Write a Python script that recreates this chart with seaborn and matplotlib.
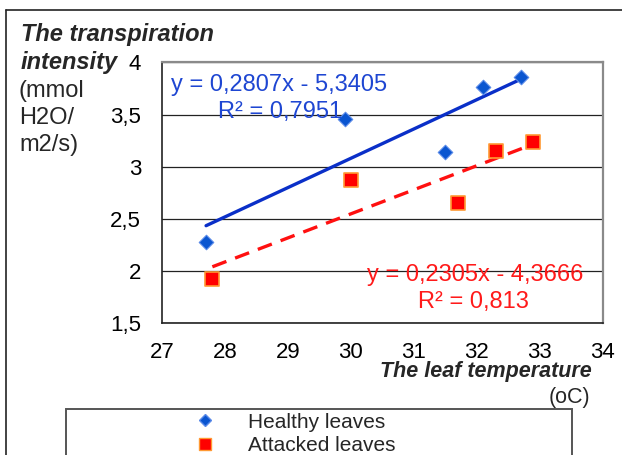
import matplotlib
matplotlib.use("Agg")
import matplotlib.pyplot as plt
import seaborn as sns
import pandas as pd
from matplotlib.patches import Rectangle
from matplotlib.lines import Line2D

# ---- data ----
healthy_temp = [27.7, 29.9, 31.5, 32.1, 32.7]
healthy_trans = [2.28, 3.46, 3.14, 3.76, 3.86]
attacked_temp = [27.8, 30.0, 31.7, 32.3, 32.9]
attacked_trans = [1.92, 2.87, 2.65, 3.15, 3.24]
healthy_fit = (0.2807, -5.3405)
attacked_fit = (0.2305, -4.3666)
healthy_eq = ["y = 0,2807x - 5,3405", "R² = 0,7951"]
attacked_eq = ["y = 0,2305x - 4,3666", "R² = 0,813"]
series_names = ["Healthy leaves", "Attacked leaves"]
x_ticks = [27, 28, 29, 30, 31, 32, 33, 34]
y_ticks = [1.5, 2, 2.5, 3, 3.5, 4]
y_tick_labels = ["1,5", "2", "2,5", "3", "3,5", "4"]

df = pd.DataFrame({
    "temp": healthy_temp + attacked_temp,
    "trans": healthy_trans + attacked_trans,
    "group": [series_names[0]] * len(healthy_temp) + [series_names[1]] * len(attacked_temp),
})

sns.set_style("white")
plt.rcParams["font.family"] = ["Liberation Sans", "DejaVu Sans"]

W, H = 622, 455
fig = plt.figure(figsize=(6.22, 4.55), dpi=100)
ax = fig.add_axes([162 / W, 1 - 323.3 / H, (602.7 - 162) / W, (323.3 - 62.3) / H])

def fx(px):
    return px / W

def fy(py):
    return 1 - py / H

blue_fill = "#0A55D0"
blue_line = "#0A2FC8"
red_fill = "#FF0000"
red_edge = "#FF9933"

# gridlines
ax.set_axisbelow(True)
ax.yaxis.grid(True, color="#222222", lw=0.9)
ax.xaxis.grid(False)

# trend lines
xs = [min(healthy_temp), max(healthy_temp)]
ax.plot(xs, [healthy_fit[0] * v + healthy_fit[1] for v in xs], color=blue_line, lw=2.4, zorder=2)
xs = [min(attacked_temp), max(attacked_temp)]
ax.plot(xs, [attacked_fit[0] * v + attacked_fit[1] for v in xs], color="#FF1010", lw=2.4,
        ls=(0, (4.5, 2.8)), zorder=2)

sns.scatterplot(data=df[df.group == series_names[0]], x="temp", y="trans", marker="D",
                color=blue_fill, edgecolor="#5A8AE8", linewidth=0.8, s=55, ax=ax, zorder=3,
                legend=False)
sns.scatterplot(data=df[df.group == series_names[1]], x="temp", y="trans", marker="s",
                color=red_fill, edgecolor=red_edge, linewidth=1.2, s=95, ax=ax, zorder=3,
                legend=False)

ax.set_xlim(27, 34)
ax.set_ylim(1.5, 4)
ax.set_xticks(x_ticks)
ax.set_xticklabels([str(t) for t in x_ticks])
ax.set_yticks(y_ticks)
ax.set_yticklabels(y_tick_labels)
ax.set_xlabel("")
ax.set_ylabel("")
ax.tick_params(axis="both", which="major", direction="out", length=5, width=1,
               color="#222222", labelsize=16, labelcolor="black")
ax.tick_params(axis="x", pad=8.5)
ax.tick_params(axis="y", pad=10)

for side in ["top", "right"]:
    ax.spines[side].set_color("#8A8A8A")
    ax.spines[side].set_linewidth(1.6)
for side in ["left", "bottom"]:
    ax.spines[side].set_color("#222222")
    ax.spines[side].set_linewidth(1.2)

# equations
eq_fs = 17
fig.text(fx(171), fy(85), healthy_eq[0], fontsize=eq_fs, color="#1E46D2", ha="left", va="center")
fig.text(fx(280), fy(112), healthy_eq[1], fontsize=eq_fs, color="#1E46D2", ha="center", va="center")
fig.text(fx(583), fy(275), attacked_eq[0], fontsize=eq_fs, color="#FF1A1A", ha="right", va="center")
fig.text(fx(473), fy(302), attacked_eq[1], fontsize=eq_fs, color="#FF1A1A", ha="center", va="center")

# y-axis title
t_fs = 17
fig.text(fx(21), fy(35), "The transpiration", fontsize=t_fs, fontweight="bold",
         fontstyle="italic", ha="left", va="center")
fig.text(fx(21), fy(63), "intensity", fontsize=t_fs, fontweight="bold",
         fontstyle="italic", ha="left", va="center")
for i, t in enumerate(["(mmol", "H2O/", "m2/s)"]):
    fig.text(fx(19), fy(91 + 27 * i), t, fontsize=t_fs, ha="left", va="center")

# x-axis title
fig.text(fx(592), fy(372), "The leaf temperature", fontsize=15.5, fontweight="bold",
         fontstyle="italic", ha="right", va="center")
fig.text(fx(590), fy(397), "(oC)", fontsize=15.5, ha="right", va="center")

# outer chart border (partially visible)
fig.add_artist(Line2D([fx(6), 1], [fy(10)] * 2, transform=fig.transFigure, color="#222222", lw=1.2))
fig.add_artist(Line2D([fx(6)] * 2, [0, fy(10)], transform=fig.transFigure, color="#222222", lw=1.2))

# legend box
fig.add_artist(Rectangle((fx(66), -0.05), fx(572 - 66), fy(409) + 0.05,
                         transform=fig.transFigure, fill=False, edgecolor="#555555", lw=1.4))
handles = [
    Line2D([], [], marker="D", color=blue_fill, markeredgecolor="#5A8AE8", ls="none", markersize=6),
    Line2D([], [], marker="s", color=red_fill, markeredgecolor=red_edge, ls="none", markersize=8),
]
fig.legend(handles, series_names, loc="center left", bbox_to_anchor=(fx(195), fy(434)),
           frameon=False, fontsize=15, handlelength=1.0, handletextpad=1.55, labelspacing=0.22,
           borderpad=0, borderaxespad=0)

fig.savefig("out.png", dpi=100)
